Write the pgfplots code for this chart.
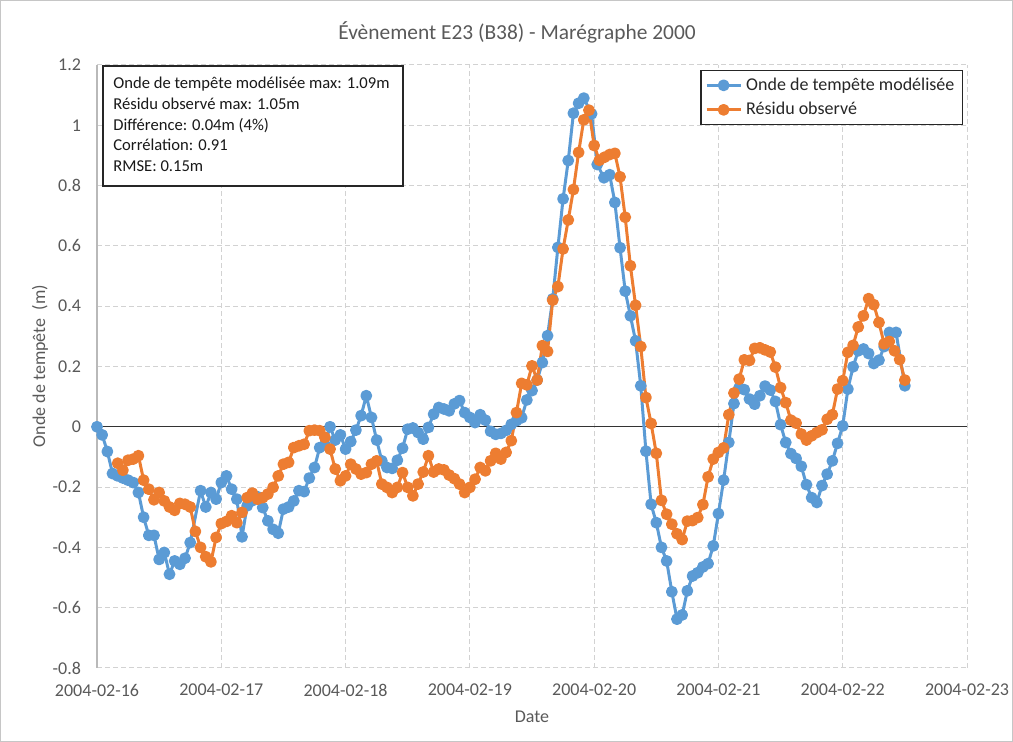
\documentclass[border=0pt]{standalone}
\usepackage{fontspec}
\setmainfont{Carlito}
\usepackage{pgfplots}
\pgfplotsset{compat=1.18}
\definecolor{exblue}{HTML}{5B9BD5}
\definecolor{exorange}{HTML}{ED7D31}
\definecolor{txtgray}{HTML}{595959}
\begin{document}
\begin{tikzpicture}[x=0.5pt,y=0.5pt]
\useasboundingbox (0,0) rectangle (1013,742);
\draw[gray!45, line width=0.5pt] (0.5,0.5) rectangle (1012.5,741.5);
\begin{axis}[
  at={(48.5pt,37pt)}, anchor=south west,
  scale only axis, width=435pt, height=301.5pt,
  xmin=0, xmax=168, ymin=-0.8, ymax=1.2,
  xtick={0,24,48,72,96,120,144,168},
  xticklabels={2004-02-16,2004-02-17,2004-02-18,2004-02-19,2004-02-20,2004-02-21,2004-02-22,2004-02-23},
  ytick={-0.8,-0.6,-0.4,-0.2,0,0.2,0.4,0.6,0.8,1,1.2},
  yticklabels={-0.8,-0.6,-0.4,-0.2,0,0.2,0.4,0.6,0.8,1,1.2},
  grid=major,
  major grid style={draw=gray!35, dash pattern=on 2.5pt off 1.5pt, line width=0.5pt},
  axis lines*=left,
  x axis line style={draw=none},
  y axis line style={-, draw=gray!55, line width=0.7pt},
  major tick length=0pt,
  tick label style={font=\fontsize{9}{11}\selectfont, text=txtgray},
  xticklabel style={yshift=-4.5pt},
  yticklabel style={xshift=-4.5pt},
  clip=false,
  legend style={at={(0.9954,0.9917)}, anchor=north east, draw=black!85, line width=0.6pt, fill=white,
    font=\fontsize{9}{11}\selectfont, text=black!85, inner xsep=2pt, inner ysep=1.5pt, row sep=0.5pt,
    cells={anchor=west}},
  legend cell align=left,
]
\addplot[black!80, line width=0.6pt, forget plot] coordinates {(0,0) (168,0)};
\addplot[exblue, line width=1.5pt, line join=round, mark=*, mark size=2.2pt, mark options={solid, fill=exblue, draw=exblue}] coordinates {
(0,0.000) (1,-0.027) (2,-0.082) (3,-0.155) (4,-0.163) (5,-0.170) (6,-0.177) (7,-0.185) (8,-0.218) (9,-0.300)
(10,-0.360) (11,-0.360) (12,-0.440) (13,-0.417) (14,-0.489) (15,-0.445) (16,-0.456) (17,-0.436) (18,-0.384)
(20,-0.212) (21,-0.266) (22,-0.218) (23,-0.240) (24,-0.185) (25,-0.163) (26,-0.207) (27,-0.240) (28,-0.365) (29,-0.262)
(30,-0.245) (31,-0.232) (32,-0.268) (33,-0.312) (34,-0.340) (35,-0.353) (36,-0.273) (37,-0.266) (38,-0.246) (39,-0.212)
(40,-0.215) (41,-0.170) (42,-0.135) (43,-0.069) (44,-0.060) (45,0.000) (46,-0.044) (47,-0.027) (48,-0.074) (49,-0.049)
(50,-0.011) (51,0.037) (52,0.103) (53,0.031) (54,-0.044) (55,-0.113) (56,-0.135) (57,-0.138) (58,-0.111) (59,-0.071)
(60,-0.008) (61,-0.004) (62,-0.019) (63,-0.041) (64,-0.002) (65,0.042) (66,0.064) (67,0.059) (68,0.053) (69,0.076)
(70,0.087) (71,0.047) (72,0.031) (73,0.014) (74,0.040) (75,0.022) (76,-0.015) (77,-0.025) (78,-0.022) (79,-0.012)
(80,0.008) (81,0.020) (82,0.030) (83,0.089) (84,0.120) (85,0.155) (86,0.213) (87,0.302) (88,0.424) (89,0.595)
(90,0.756) (91,0.883) (92,1.040) (93,1.073) (94,1.090) (95.5,1.038) (96.6,0.870) (97.9,0.826) (99,0.836)
(100,0.744) (101,0.594) (102,0.450) (103,0.368) (104,0.285) (105,0.136) (106,-0.081) (107,-0.257) (108,-0.318) (109,-0.400)
(110,-0.445) (111,-0.547) (112,-0.638) (113,-0.624) (114,-0.544) (115,-0.495) (116,-0.484) (117,-0.465) (118,-0.454) (119,-0.395)
(120,-0.288) (121,-0.177) (122,-0.052) (123,0.077) (124,0.130) (125,0.123) (126,0.092) (127,0.075) (128,0.103) (129,0.135)
(130,0.122) (131,0.084) (132,0.007) (133,-0.052) (134,-0.089) (135,-0.105) (136,-0.131) (137,-0.192) (138,-0.235) (139,-0.251)
(140,-0.195) (141,-0.157) (142,-0.113) (143,-0.055) (144,0.003) (145,0.125) (146,0.199) (147,0.252) (148,0.258) (149,0.243)
(150,0.210) (151,0.221) (152,0.266) (153,0.313) (154.3,0.313) (156,0.136)
};
\addlegendentry{Onde de tempête modélisée}
\addplot[exorange, line width=1.5pt, line join=round, mark=*, mark size=2.2pt, mark options={solid, fill=exorange, draw=exorange}] coordinates {
(4,-0.121) (5,-0.144) (6,-0.111) (7,-0.107) (8,-0.096) (9,-0.177)
(10,-0.207) (11,-0.242) (12,-0.218) (13,-0.246) (14,-0.266) (15,-0.277) (16,-0.254) (17,-0.257) (18,-0.266) (19,-0.347)
(20,-0.400) (21,-0.431) (22,-0.448) (23,-0.367) (24,-0.321) (25,-0.314) (26,-0.295) (27,-0.318) (28,-0.284) (29,-0.235)
(30,-0.220) (31,-0.240) (32,-0.235) (33,-0.223) (34,-0.201) (35,-0.163) (36,-0.124) (37,-0.118) (38,-0.069) (39,-0.063)
(40,-0.058) (41,-0.013) (42,-0.011) (43,-0.013) (44,-0.035) (45,-0.074) (46,-0.140) (47,-0.179) (48,-0.163) (49,-0.124)
(50,-0.140) (51,-0.157) (52,-0.152) (53,-0.124) (54,-0.113) (55,-0.190) (56,-0.201) (57,-0.218) (58,-0.201) (59,-0.152)
(60,-0.201) (61,-0.229) (62,-0.190) (63,-0.150) (64,-0.096) (65,-0.150) (66,-0.140) (67,-0.143) (68,-0.160) (69,-0.172)
(70,-0.190) (71,-0.218) (72,-0.201) (73,-0.174) (74,-0.135) (75,-0.146) (76,-0.113) (77,-0.088) (78,-0.107) (79,-0.085)
(80,-0.046) (81,0.047) (82,0.144) (83,0.139) (84,0.202) (85,0.155) (86,0.269) (87,0.250) (88,0.420) (89,0.465)
(90,0.590) (91,0.686) (92,0.787) (93,0.910) (94,1.018) (95,1.050) (96,0.933) (97,0.884) (98,0.894) (99,0.903)
(100,0.907) (101,0.829) (102,0.695) (103,0.534) (104,0.403) (105,0.266) (106,0.097) (107,0.011) (108,-0.088) (109,-0.244)
(110,-0.290) (111,-0.323) (112,-0.355) (113,-0.374) (114,-0.313) (115,-0.311) (116,-0.301) (117,-0.258) (118,-0.166) (119,-0.107)
(120,-0.085) (121,-0.070) (122,0.040) (123,0.112) (124,0.158) (125,0.222) (126,0.220) (127,0.260) (128,0.262) (129,0.255)
(130,0.248) (131,0.198) (132,0.130) (133,0.080) (134,0.022) (135,0.012) (136,-0.024) (137,-0.044) (138,-0.030) (139,-0.019)
(140,-0.010) (141,0.025) (142,0.040) (143,0.125) (144,0.153) (145,0.247) (146,0.270) (147,0.331) (148,0.368) (149,0.425)
(150,0.405) (151,0.346) (152,0.275) (153,0.283) (154,0.252) (155,0.223) (156,0.155)
};
\addlegendentry{Résidu observé}
\end{axis}
\node[font=\fontsize{10.7}{13}\selectfont, text=txtgray] at (517,710) {Évènement E23 (B38) - Marégraphe 2000};
\node[rotate=90, font=\fontsize{9}{11}\selectfont, text=txtgray] at (40,376) {Onde de tempête\ \ (m)};
\node[font=\fontsize{9}{11}\selectfont, text=txtgray] at (532,25) {Date};
\draw[line width=0.7pt, black!85, fill=white] (103,676) rectangle (403,556);
\node[anchor=north west, inner sep=0pt, align=left, font=\fontsize{8.3}{10.3}\selectfont, text=black!90] at (113,665) {Onde de tempête modélisée max: 1.09m\\Résidu observé max: 1.05m\\Différence: 0.04m (4\%)\\Corrélation: 0.91\\RMSE: 0.15m};
\end{tikzpicture}
\end{document}
